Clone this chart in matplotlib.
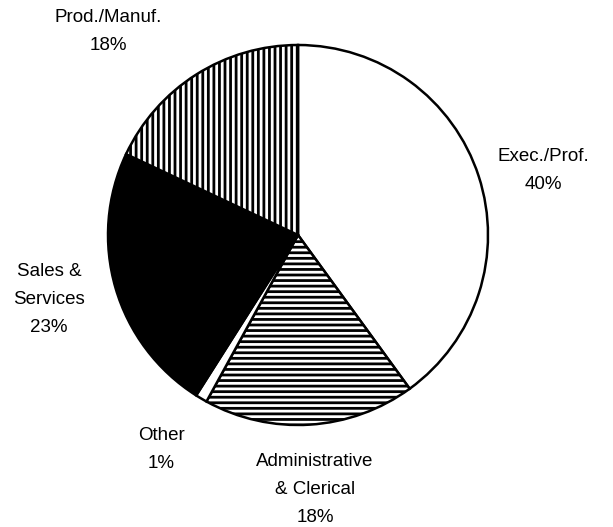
import matplotlib.pyplot as plt

# Data
labels = ['Exec./Prof.\n40%', 'Administrative\n& Clerical\n18%', 'Other\n1%',
          'Sales &\nServices\n23%', 'Prod./Manuf.\n18%']
shares = [40, 18, 1, 23, 18]
faces = ['white', 'white', 'white', 'black', 'white']
hatches = ['', '---', '', '', '|||']
label_xy = [(1.29, 0.34), (0.09, -1.34), (-0.72, -1.13), (-1.31, -0.34), (-1.0, 1.07)]

plt.rcParams['font.family'] = ['Liberation Sans', 'DejaVu Sans']
plt.rcParams['hatch.linewidth'] = 2.0

fig = plt.figure(figsize=(6.13, 5.27), dpi=100)
ax = fig.add_axes([0, 0, 1, 1])

wedges, _ = ax.pie(shares, startangle=90, counterclock=False, colors=faces,
                   radius=1.0, wedgeprops=dict(edgecolor='black', linewidth=1.8))
for w, h in zip(wedges, hatches):
    w.set_hatch(h)

for lab, (x, y) in zip(labels, label_xy):
    ax.text(x, y, lab, ha='center', va='center', fontsize=13.5, linespacing=1.85)

# pixel-matched limits (centre at 298,235 px, radius 190 px)
ax.set_xlim(-298 / 190, (613 - 298) / 190)
ax.set_ylim(-(527 - 235) / 190, 235 / 190)
ax.set_aspect('auto')
ax.axis('off')

fig.savefig('out.png', dpi=100)
